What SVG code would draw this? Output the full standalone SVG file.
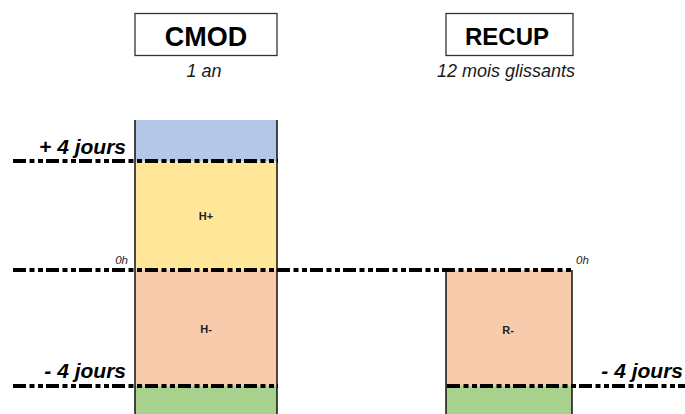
<svg xmlns="http://www.w3.org/2000/svg" width="685" height="414" viewBox="0 0 685 414">
<style>
.title{font-family:"Liberation Sans",Arial,sans-serif;font-weight:bold;font-size:25px;fill:#000;text-anchor:middle}
.sub{font-family:"Liberation Sans",Arial,sans-serif;font-style:italic;font-size:18px;fill:#1a1a1a;text-anchor:middle}
.big{font-family:"Liberation Sans",Arial,sans-serif;font-style:italic;font-weight:bold;font-size:21px;fill:#000;text-anchor:end}
.zero{font-family:"Liberation Sans",Arial,sans-serif;font-style:italic;font-size:11.5px;fill:#222}
.lbl{font-family:"Liberation Sans",Arial,sans-serif;font-weight:bold;font-size:11px;fill:#222;text-anchor:middle}
.hdr{fill:#fff;stroke:#333;stroke-width:1.3}
.dash{stroke:#000;stroke-width:4;stroke-dasharray:13 3.5 5 3.5 5 3;fill:none}
.side{stroke:#111;stroke-width:1.5;fill:none}
</style>
<rect width="685" height="414" fill="#fff"/>
<g id="cmod-header">
<rect class="hdr" x="135" y="13.5" width="142" height="42"/>
<text class="title" x="206" y="46" style="font-size:27px">CMOD</text>
<text class="sub" x="204" y="77">1 an</text>
</g>
<g id="recup-header">
<rect class="hdr" x="446" y="13.5" width="127" height="42"/>
<text class="title" x="507" y="45" style="font-size:24px">RECUP</text>
<text class="sub" x="506" y="77">12 mois glissants</text>
</g>
<g id="cmod-column">
<rect x="135" y="120" width="142" height="41" fill="#B4C7E7"/>
<rect x="135" y="161" width="142" height="109" fill="#FFE699"/>
<rect x="135" y="270" width="142" height="116" fill="#F8CBAD"/>
<rect x="135" y="386" width="142" height="28" fill="#A9D18E"/>
<line class="side" x1="135" y1="120" x2="135" y2="414"/>
<line class="side" x1="277" y1="120" x2="277" y2="414"/>
<text class="lbl" x="206" y="220">H+</text>
<text class="lbl" x="206" y="333">H-</text>
</g>
<g id="recup-column">
<rect x="446" y="270" width="126" height="116" fill="#F8CBAD"/>
<rect x="446" y="386" width="126" height="28" fill="#A9D18E"/>
<line class="side" x1="446" y1="270" x2="446" y2="414" stroke="#444"/>
<line class="side" x1="572" y1="270" x2="572" y2="414" stroke="#444"/>
<text class="lbl" x="508" y="334">R-</text>
</g>
<g id="connectors">
<line class="dash" x1="13" y1="161" x2="278" y2="161"/>
<line class="dash" x1="13" y1="270" x2="572" y2="270"/>
<line class="dash" x1="13" y1="386" x2="278" y2="386"/>
<line class="dash" x1="447" y1="386" x2="685" y2="386"/>
</g>
<g id="labels">
<text class="big" x="126" y="154">+ 4 jours</text>
<text class="big" x="126" y="378">- 4 jours</text>
<text class="big" x="683" y="378">- 4 jours</text>
<text class="zero" x="128" y="264" text-anchor="end">0h</text>
<text class="zero" x="576" y="264">0h</text>
</g>
</svg>
